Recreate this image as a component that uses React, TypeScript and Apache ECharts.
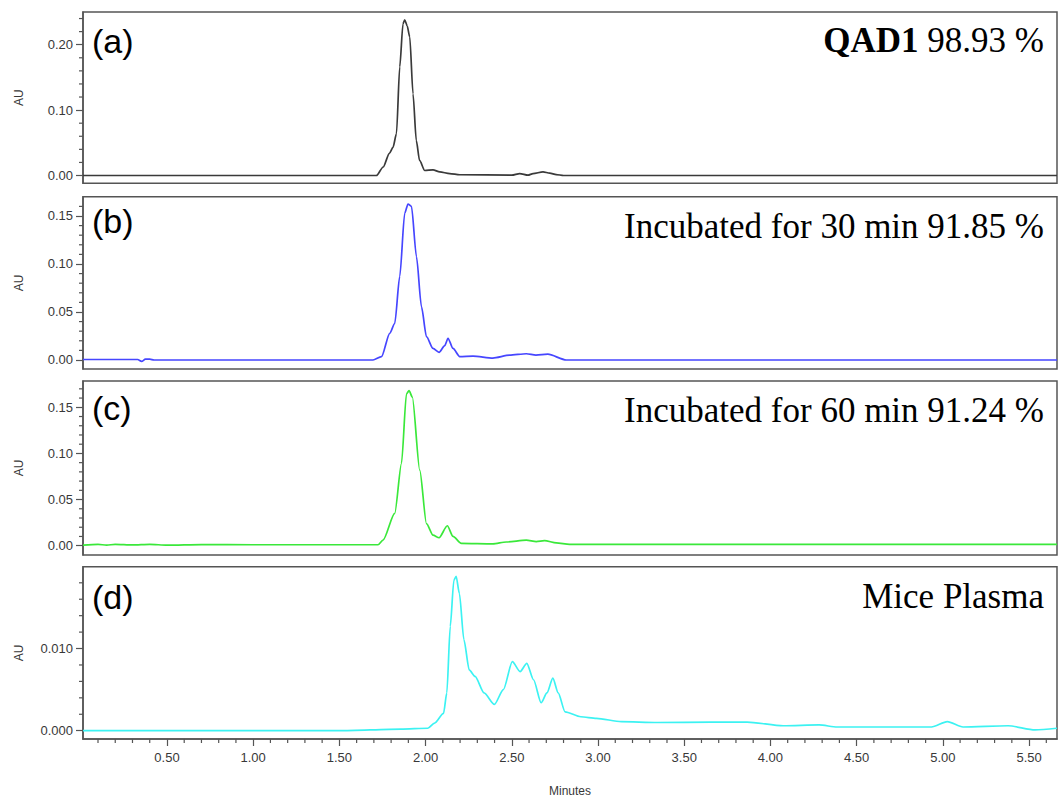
import React, { useEffect, useRef } from "react";
import * as echarts from "echarts";

// ---------- data ----------
const xMin = 0.013;
const xMax = 5.662;

// (a) QAD1
const aTimes = [0.013, 1.7, 1.715, 1.754, 1.79, 1.811, 1.831, 1.85, 1.869, 1.879, 1.893, 1.908, 1.927, 1.946, 1.965, 1.995, 2.043, 2.082, 2.14, 2.198, 2.5, 2.546, 2.594, 2.623, 2.681, 2.72, 2.758, 2.8, 5.662];
const aValues = [0, 0, 0, 0.013, 0.034, 0.043, 0.064, 0.166, 0.232, 0.238, 0.229, 0.212, 0.125, 0.0536, 0.023, 0.0077, 0.0087, 0.0056, 0.003, 0.0012, 0.0005, 0.003, 0.0005, 0.003, 0.0056, 0.0036, 0.0015, 0, 0];

// (b) incubated 30 min
const bTimes = [0.013, 0.33, 0.353, 0.375, 0.4, 0.425, 1.695, 1.744, 1.792, 1.821, 1.85, 1.879, 1.898, 1.918, 1.947, 1.976, 2.005, 2.043, 2.078, 2.111, 2.13, 2.159, 2.198, 2.275, 2.39, 2.487, 2.584, 2.64, 2.709, 2.816, 5.662];
const bValues = [0.0005, 0.0005, -0.0015, 0.0008, 0.0008, 0, 0, 0.0034, 0.0278, 0.038, 0.087, 0.153, 0.1625, 0.16, 0.1076, 0.0555, 0.0243, 0.012, 0.008, 0.015, 0.0226, 0.012, 0.0035, 0.004, 0.002, 0.005, 0.0065, 0.005, 0.006, 0.0, 0];

// (c) incubated 60 min
const cTimes = [0.013, 0.1, 0.15, 0.2, 0.3, 0.4, 0.5, 0.7, 1.0, 1.3, 1.724, 1.753, 1.821, 1.86, 1.889, 1.904, 1.923, 1.966, 2.005, 2.043, 2.078, 2.126, 2.159, 2.207, 2.39, 2.468, 2.584, 2.642, 2.69, 2.758, 2.835, 5.662];
const cValues = [0.0005, 0.0015, 0.0005, 0.0015, 0.0008, 0.0015, 0.0005, 0.0012, 0.001, 0.001, 0.001, 0.006, 0.035, 0.089, 0.1645, 0.168, 0.161, 0.082, 0.024, 0.0115, 0.0086, 0.0216, 0.01, 0.0025, 0.002, 0.004, 0.006, 0.0045, 0.0055, 0.003, 0.0015, 0.0015];

// (d) mice plasma
const dTimes = [0.013, 1.5, 1.857, 2.013, 2.052, 2.104, 2.123, 2.143, 2.164, 2.177, 2.196, 2.222, 2.253, 2.287, 2.339, 2.399, 2.451, 2.503, 2.548, 2.587, 2.626, 2.67, 2.704, 2.738, 2.769, 2.809, 2.9, 2.991, 3.135, 3.343, 3.656, 3.865, 4.074, 4.282, 4.387, 4.934, 5.026, 5.117, 5.378, 5.535, 5.662];
const dValues = [0.0, 0.0, 0.0002, 0.0003, 0.00093, 0.0021, 0.0046, 0.0127, 0.0183, 0.0188, 0.0167, 0.0111, 0.0074, 0.0066, 0.0046, 0.0032, 0.005, 0.0084, 0.0072, 0.0082, 0.0062, 0.0034, 0.0046, 0.0064, 0.0046, 0.0023, 0.0017, 0.0015, 0.0011, 0.001, 0.00105, 0.00105, 0.0006, 0.0007, 0.00045, 0.00045, 0.0011, 0.00045, 0.0006, 0.0001, 0.0003];

// tick labels
const aYTicks = [0, 0.1, 0.2];
const aYMinor = [0.02, 0.04, 0.06, 0.08, 0.12, 0.14, 0.16, 0.18, 0.22, 0.24];
const bYTicks = [0, 0.05, 0.1, 0.15];
const bYMinor = [0.01, 0.02, 0.03, 0.04, 0.06, 0.07, 0.08, 0.09, 0.11, 0.12, 0.13, 0.14, 0.16];
const cYTicks = [0, 0.05, 0.1, 0.15];
const cYMinor = [0.01, 0.02, 0.03, 0.04, 0.06, 0.07, 0.08, 0.09, 0.11, 0.12, 0.13, 0.14, 0.16, 0.17];
const dYTicks = [0, 0.01];
const dYMinor = [0.002, 0.004, 0.006, 0.008, 0.012, 0.014, 0.016, 0.018];
const xTicks = [0.5, 1.0, 1.5, 2.0, 2.5, 3.0, 3.5, 4.0, 4.5, 5.0, 5.5];
const xMinor = [0.1, 0.2, 0.3, 0.4, 0.6, 0.7, 0.8, 0.9, 1.1, 1.2, 1.3, 1.4, 1.6, 1.7, 1.8, 1.9, 2.1, 2.2, 2.3, 2.4, 2.6, 2.7, 2.8, 2.9, 3.1, 3.2, 3.3, 3.4, 3.6, 3.7, 3.8, 3.9, 4.1, 4.2, 4.3, 4.4, 4.6, 4.7, 4.8, 4.9, 5.1, 5.2, 5.3, 5.4, 5.6];

const panelLetters = ["(a)", "(b)", "(c)", "(d)"];
const panelTitles = ["{b|QAD1} 98.93 %", "Incubated for 30 min 91.85 %", "Incubated for 60 min 91.24 %", "Mice Plasma"];

// ---------- layout / style ----------
const W = 1058;
const H = 798;
const LEFT = 83;
const RIGHT = 1;
const grids = [
  { top: 12, height: 171.3 },
  { top: 196.7, height: 172.3 },
  { top: 381, height: 174 },
  { top: 566.7, height: 172.6 },
];
const yRanges = [
  [-0.0119, 0.25],
  [-0.0094, 0.1701],
  [-0.0101, 0.1785],
  [-0.00101, 0.01996],
];
const colors = ["#3a3a3a", "#4646ff", "#3ae83a", "#3cf2f2"];
const letterY = [41, 221, 408, 597];
const titleY = [40, 226.5, 410, 596];
const AXIS = "#555555";
const TXT = "#383838";
const SANS = "'Liberation Sans', Arial, sans-serif";
const SERIF = "'Liberation Serif', 'Times New Roman', serif";

export default function App() {
  const ref = useRef<HTMLDivElement>(null);

  useEffect(() => {
    document.body.style.margin = "0";
    document.body.style.background = "#ffffff";
    const chart = echarts.init(ref.current!, undefined, { renderer: "svg" });

    const yTicksAll = [aYTicks, bYTicks, cYTicks, dYTicks];
    const yMinorAll = [aYMinor, bYMinor, cYMinor, dYMinor];
    const times = [aTimes, bTimes, cTimes, dTimes];
    const values = [aValues, bValues, cValues, dValues];

    const xAxes: any[] = [];
    const yAxes: any[] = [];
    const series: any[] = [];

    for (let i = 0; i < 4; i++) {
      const isLast = i === 3;
      xAxes.push({
        gridIndex: i,
        type: "value",
        min: xMin,
        max: xMax,
        show: isLast,
        position: "bottom",
        name: isLast ? "Minutes" : "",
        nameLocation: "middle",
        nameGap: 46,
        nameTextStyle: { fontFamily: SANS, fontSize: 12, color: TXT },
        axisLine: { show: true, onZero: false, lineStyle: { color: AXIS, width: 1.5 } },
        axisTick: { show: true, inside: false, length: 7, customValues: xTicks, lineStyle: { color: AXIS, width: 1.2 } },
        axisLabel: {
          show: true,
          customValues: xTicks,
          margin: 12,
          fontFamily: SANS,
          fontSize: 13,
          color: TXT,
          formatter: (v: number) => v.toFixed(2),
        },
        splitLine: { show: false },
      });
      yAxes.push({
        gridIndex: i,
        type: "value",
        min: yRanges[i][0],
        max: yRanges[i][1],
        position: "left",
        name: "AU",
        nameLocation: "middle",
        nameRotate: 90,
        nameGap: 58,
        nameTextStyle: { fontFamily: SANS, fontSize: 12, color: TXT },
        axisLine: { show: true, onZero: false, lineStyle: { color: AXIS, width: 1.5 } },
        axisTick: { show: true, inside: false, length: 7, customValues: yTicksAll[i], lineStyle: { color: AXIS, width: 1.2 } },
        axisLabel: {
          show: true,
          customValues: yTicksAll[i],
          margin: 10,
          fontFamily: SANS,
          fontSize: 13,
          color: TXT,
          formatter: (v: number) => v.toFixed(isLast ? 3 : 2),
        },
        splitLine: { show: false },
      });
    }

    for (let i = 0; i < 4; i++) {
      series.push({
        type: "line",
        xAxisIndex: i,
        yAxisIndex: i,
        data: times[i].map((t, k) => [t, values[i][k]]),
        showSymbol: false,
        symbol: "none",
        smooth: 0.25,
        smoothMonotone: "x",
        lineStyle: { color: colors[i], width: 1.7 },
        clip: true,
        z: 3,
      });
      // minor y ticks, placed through the axis scale
      series.push({
        type: "custom",
        xAxisIndex: i,
        yAxisIndex: i,
        data: yMinorAll[i].map((v) => [xMin, v]),
        silent: true,
        clip: false,
        renderItem: (params: any, api: any) => {
          const p = api.coord([api.value(0), api.value(1)]);
          return {
            type: "line",
            shape: { x1: p[0] - 4, y1: p[1], x2: p[0], y2: p[1] },
            style: { stroke: AXIS, lineWidth: 1.2 },
          };
        },
      });
    }
    // minor x ticks on the bottom panel
    series.push({
      type: "custom",
      xAxisIndex: 3,
      yAxisIndex: 3,
      data: xMinor.map((t) => [t, yRanges[3][0]]),
      silent: true,
      clip: false,
      renderItem: (params: any, api: any) => {
        const p = api.coord([api.value(0), api.value(1)]);
        return {
          type: "line",
          shape: { x1: p[0], y1: p[1], x2: p[0], y2: p[1] + 4 },
          style: { stroke: AXIS, lineWidth: 1.2 },
        };
      },
    });

    const graphics: any[] = [];
    for (let i = 0; i < 4; i++) {
      graphics.push({
        type: "text",
        x: 92,
        y: letterY[i],
        style: {
          text: panelLetters[i],
          fontFamily: SANS,
          fontSize: 34,
          fill: "#000",
          align: "left",
          verticalAlign: "middle",
        },
      });
      graphics.push({
        type: "text",
        x: 1044,
        y: titleY[i],
        style: {
          text: panelTitles[i],
          fontFamily: SERIF,
          fontSize: 35,
          fill: "#000",
          align: "right",
          verticalAlign: "middle",
          rich: {
            b: { fontFamily: SERIF, fontSize: 35, fontWeight: "bold", fill: "#000" },
          },
        },
      });
    }

    chart.setOption({
      animation: false,
      backgroundColor: "#ffffff",
      grid: grids.map((g) => ({
        left: LEFT,
        right: RIGHT,
        top: g.top,
        height: g.height,
        show: true,
        borderColor: AXIS,
        borderWidth: 1.5,
        backgroundColor: "transparent",
        containLabel: false,
      })),
      xAxis: xAxes,
      yAxis: yAxes,
      series,
      graphic: graphics,
    });

    return () => chart.dispose();
  }, []);

  return <div ref={ref} style={{ width: W, height: H }} />;
}
